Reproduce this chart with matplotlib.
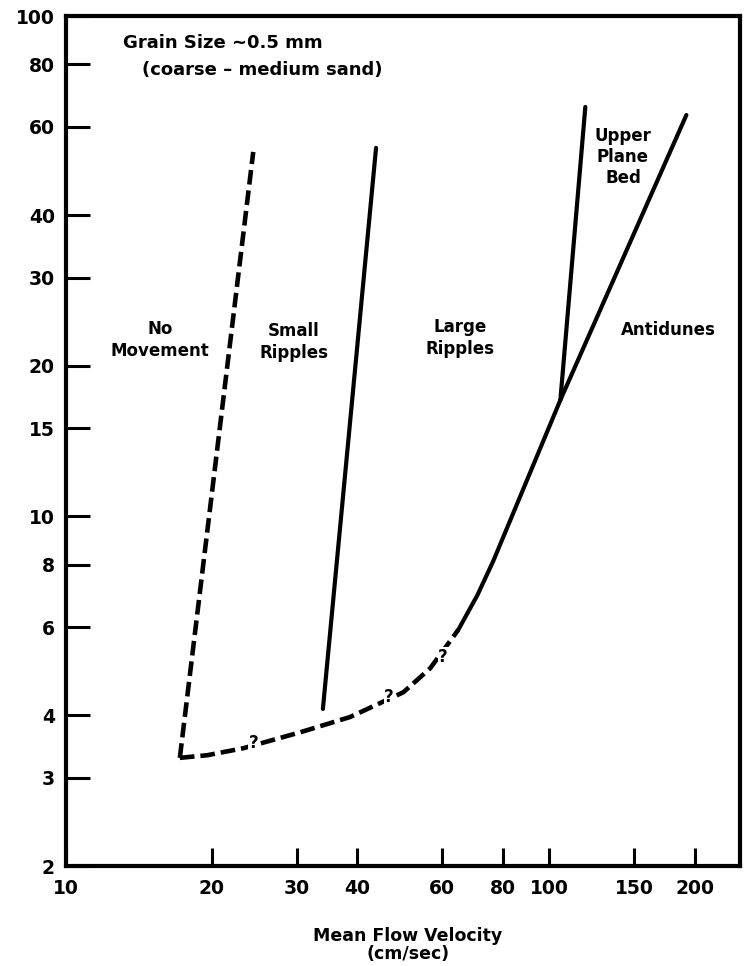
import matplotlib
matplotlib.use('Agg')
import matplotlib.pyplot as plt
from matplotlib.ticker import NullLocator

plt.rcParams['font.family'] = ['DejaVu Sans']
plt.rcParams['font.weight'] = 'bold'

# ---- data (velocity cm/s, depth cm) ----
no_move_v = [17.2, 24.4]
no_move_d = [3.29, 53.5]

small_large_v = [34.0, 43.8]
small_large_d = [4.12, 54.5]

lower_dashed_v = [17.2, 19.6, 23.3, 30.5, 38.7, 49.9, 56.7, 64.8]
lower_dashed_d = [3.29, 3.33, 3.44, 3.70, 3.97, 4.45, 4.97, 5.93]

antidune_v = [64.8, 71.0, 76.6, 105.4, 192.1]
antidune_d = [5.93, 6.96, 8.15, 17.08, 63.4]

upper_plane_v = [105.4, 118.7]
upper_plane_d = [17.08, 65.8]

question_v = [24.4, 46.6, 60.3]
question_d = [3.52, 4.35, 5.23]

x_ticks = [10, 20, 30, 40, 60, 80, 100, 150, 200]
x_labels = ['10', '20', '30', '40', '60', '80', '100', '150', '200']
y_ticks = [2, 3, 4, 6, 8, 10, 15, 20, 30, 40, 60, 80, 100]
y_labels = ['2', '3', '4', '6', '8', '10', '15', '20', '30', '40', '60', '80', '100']

W, H = 746, 966
fig = plt.figure(figsize=(W / 100, H / 100), dpi=100)
ax = fig.add_axes([66 / W, 100 / H, 674 / W, 850 / H])
ax.set_xscale('log')
ax.set_yscale('log')
ax.set_xlim(10, 248)
ax.set_ylim(2, 100)

dash = (3.2, 1.3)
ax.plot(no_move_v, no_move_d, color='black', lw=3.3, linestyle=(0, dash),
        dash_capstyle='butt')
ax.plot(lower_dashed_v, lower_dashed_d, color='black', lw=3.3, linestyle=(0, dash),
        dash_capstyle='butt')
ax.plot(small_large_v, small_large_d, color='black', lw=3.0, solid_capstyle='round')
ax.plot(antidune_v, antidune_d, color='black', lw=3.0, solid_capstyle='round',
        solid_joinstyle='round')
ax.plot(upper_plane_v, upper_plane_d, color='black', lw=3.0, solid_capstyle='round')

for qv, qd in zip(question_v, question_d):
    ax.text(qv, qd, '?', fontsize=12, fontweight='bold', ha='center', va='center',
            bbox=dict(facecolor='white', edgecolor='none', pad=0.5))

ax.set_xticks(x_ticks)
ax.set_xticklabels(x_labels)
ax.set_yticks(y_ticks)
ax.set_yticklabels(y_labels)
ax.xaxis.set_minor_locator(NullLocator())
ax.yaxis.set_minor_locator(NullLocator())
ax.tick_params(axis='both', direction='in', width=2.2, labelsize=13.5, colors='black')
ax.tick_params(axis='x', length=13, pad=9)
ax.tick_params(axis='y', length=17, pad=8)
for s in ax.spines.values():
    s.set_linewidth(3)

def fx(x):
    return x / W

def fy(y):
    return 1 - y / H

fig.text(fx(123), fy(43), 'Grain Size ~0.5 mm', fontsize=13, ha='left', va='center')
fig.text(fx(142), fy(70), '(coarse \u2013 medium sand)', fontsize=13, ha='left', va='center')

fig.text(fx(160), fy(340), 'No\nMovement', fontsize=12, ha='center', va='center',
         multialignment='center', linespacing=1.35)
fig.text(fx(294), fy(342), 'Small\nRipples', fontsize=12, ha='center', va='center',
         multialignment='center', linespacing=1.35)
fig.text(fx(460), fy(338), 'Large\nRipples', fontsize=12, ha='center', va='center',
         multialignment='center', linespacing=1.35)
fig.text(fx(623), fy(157), 'Upper\nPlane\nBed', fontsize=12, ha='center', va='center',
         multialignment='center', linespacing=1.2)
fig.text(fx(668), fy(330), 'Antidunes', fontsize=12, ha='center', va='center')

fig.text(fx(408), fy(945), 'Mean Flow Velocity\n(cm/sec)', fontsize=12.5, ha='center',
         va='center', multialignment='center', linespacing=1.05)

fig.savefig('out.png', dpi=100, facecolor='white')
